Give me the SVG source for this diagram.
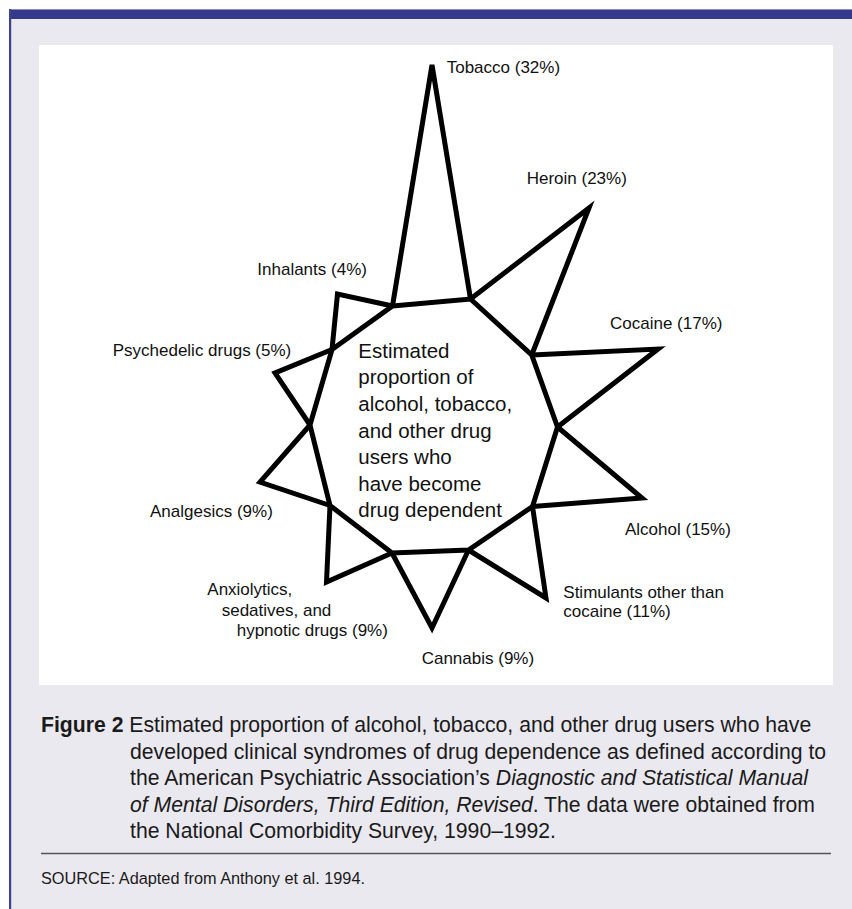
<svg xmlns="http://www.w3.org/2000/svg" width="852" height="909" viewBox="0 0 852 909">
<style>
.star{fill:none;stroke:#000;stroke-width:5;stroke-linejoin:miter;stroke-miterlimit:4}
.lbl{font-family:"Liberation Sans",Arial,sans-serif;font-size:17px;fill:#111}
.ctr{font-family:"Liberation Sans",Arial,sans-serif;font-size:20.5px;fill:#111}
.cap{font-family:"Liberation Sans",Arial,sans-serif;font-size:21.2px;fill:#1a1a1a}
.src{font-family:"Liberation Sans",Arial,sans-serif;font-size:16.3px;fill:#1a1a1a}
</style>
<rect x="0" y="0" width="852" height="909" fill="#ffffff"/>
<rect x="9" y="9" width="843" height="900" fill="#ebe9f0"/>
<rect x="9" y="9" width="843" height="1.2" fill="#8a8cbc"/>
<rect x="9" y="10" width="843" height="9" fill="#343a89"/>
<rect x="9" y="9" width="2.2" height="900" fill="#3c4190"/>
<rect x="39" y="45" width="794" height="640" fill="#ffffff"/>

<g id="center">
<polygon class="star" points="392.5,306 470.5,299 531.7,355 557.5,427 532.5,506.5 468.5,550 392,553 330,505.5 310,425 332,349.5"/>
<text class="ctr" x="358.3"><tspan x="358.3" y="357.7">Estimated</tspan><tspan x="358.3" y="384.3">proportion of</tspan><tspan x="358.3" y="410.9">alcohol, tobacco,</tspan><tspan x="358.3" y="437.5">and other drug</tspan><tspan x="358.3" y="464.1">users who</tspan><tspan x="358.3" y="490.7">have become</tspan><tspan x="358.3" y="517.3">drug dependent</tspan></text>
</g>

<g id="tobacco">
<polyline class="star" points="392.5,306 432,65 470.5,299"/>
<text class="lbl" x="446.7" y="73.3">Tobacco (32%)</text>
</g>
<g id="heroin">
<polyline class="star" points="470.5,299 589,208 531.7,355"/>
<text class="lbl" x="526.7" y="184">Heroin (23%)</text>
</g>
<g id="cocaine">
<polyline class="star" points="531.7,355 658,349 557.5,427"/>
<text class="lbl" x="610" y="329.3">Cocaine (17%)</text>
</g>
<g id="alcohol">
<polyline class="star" points="557.5,427 642,498 532.5,506.5"/>
<text class="lbl" x="625" y="535">Alcohol (15%)</text>
</g>
<g id="stimulants">
<polyline class="star" points="532.5,506.5 546,598 468.5,550"/>
<text class="lbl"><tspan x="563.3" y="597.7">Stimulants other than</tspan><tspan x="563.3" y="616.5">cocaine (11%)</tspan></text>
</g>
<g id="cannabis">
<polyline class="star" points="468.5,550 432,628 392,553"/>
<text class="lbl" x="421.7" y="664.3">Cannabis (9%)</text>
</g>
<g id="anxiolytics">
<polyline class="star" points="392,553 326.5,582 330,505.5"/>
<text class="lbl"><tspan x="207.3" y="595.3">Anxiolytics,</tspan><tspan x="221.7" y="615.5">sedatives, and</tspan><tspan x="236.7" y="636">hypnotic drugs (9%)</tspan></text>
</g>
<g id="analgesics">
<polyline class="star" points="330,505.5 260,482 310,425"/>
<text class="lbl" x="150" y="516.7">Analgesics (9%)</text>
</g>
<g id="psychedelic">
<polyline class="star" points="310,425 275,373 332,349.5"/>
<text class="lbl" x="112.7" y="356">Psychedelic drugs (5%)</text>
</g>
<g id="inhalants">
<polyline class="star" points="332,349.5 337.5,294 392.5,306"/>
<text class="lbl" x="257.3" y="275">Inhalants (4%)</text>
</g>

<g id="caption">
<text class="cap" x="41" y="732"><tspan font-weight="bold">Figure 2</tspan> Estimated proportion of alcohol, tobacco, and other drug users who have</text>
<text class="cap" x="130" y="758.5">developed clinical syndromes of drug dependence as defined according to</text>
<text class="cap" x="130" y="785">the American Psychiatric Association’s <tspan font-style="italic">Diagnostic and Statistical Manual</tspan></text>
<text class="cap" x="130" y="811.7"><tspan font-style="italic">of Mental Disorders, Third Edition, Revised</tspan>. The data were obtained from</text>
<text class="cap" x="130" y="838.3">the National Comorbidity Survey, 1990–1992.</text>
</g>
<line x1="41" y1="853.5" x2="831" y2="853.5" stroke="#555" stroke-width="1.5"/>
<text class="src" x="41" y="884">SOURCE: Adapted from Anthony et al. 1994.</text>
</svg>
